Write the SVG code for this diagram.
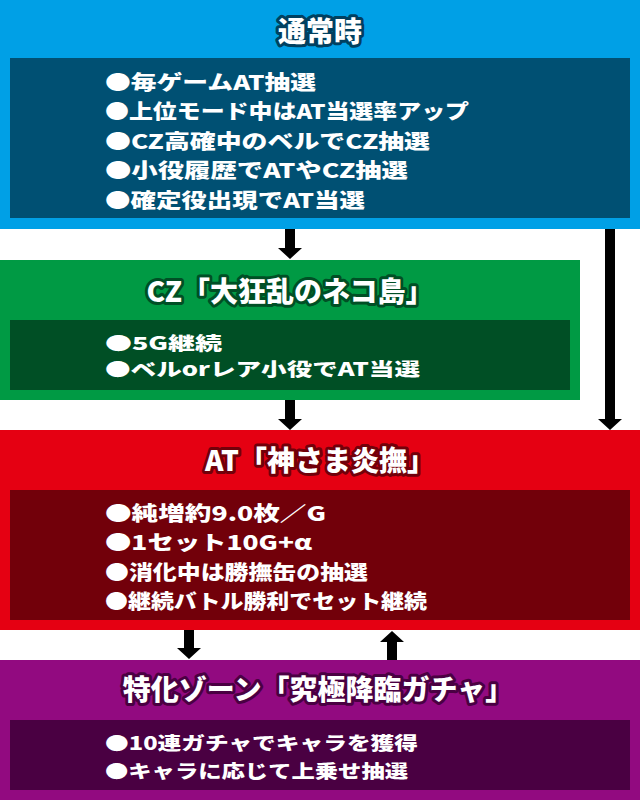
<svg xmlns="http://www.w3.org/2000/svg" width="640" height="800" viewBox="0 0 640 800">
<style>
.title{font-family:"Noto Sans CJK JP","Noto Sans",sans-serif;font-weight:900;font-size:28px;fill:#fff;stroke-width:6;stroke-linejoin:round;paint-order:stroke;text-anchor:middle}
.body{font-family:"Noto Sans CJK JP","Noto Sans",sans-serif;font-weight:900;font-size:20px;fill:#fff}
.small{font-size:18px}
.arrow{fill:#000}
</style>
<rect width="640" height="800" fill="#fff"/>
<g id="normal">
<rect x="0" y="0" width="640" height="229" fill="#00a0e6"/>
<rect x="10" y="58" width="620" height="160" fill="#005073"/>
<text class="title" x="320" y="42" stroke="#004060">通常時</text>
<text class="body" x="105" y="90" textLength="211" lengthAdjust="spacingAndGlyphs">●毎ゲームAT抽選</text>
<text class="body" x="105" y="119" textLength="364" lengthAdjust="spacingAndGlyphs">●上位モード中はAT当選率アップ</text>
<text class="body" x="105" y="149" textLength="325" lengthAdjust="spacingAndGlyphs">●CZ高確中のベルでCZ抽選</text>
<text class="body" x="105" y="178" textLength="303" lengthAdjust="spacingAndGlyphs">●小役履歴でATやCZ抽選</text>
<text class="body" x="105" y="208" textLength="260" lengthAdjust="spacingAndGlyphs">●確定役出現でAT当選</text>
</g>
<g id="cz">
<rect x="0" y="260" width="580" height="140" fill="#009a44"/>
<rect x="10" y="320" width="560" height="70" fill="#004f25"/>
<text class="title" x="290" y="302" stroke="#004f25">CZ「大狂乱のネコ島」</text>
<text class="body small" x="105" y="350" textLength="117" lengthAdjust="spacingAndGlyphs">●5G継続</text>
<text class="body small" x="105" y="376" textLength="315" lengthAdjust="spacingAndGlyphs">●ベルorレア小役でAT当選</text>
</g>
<g id="at">
<rect x="0" y="430" width="640" height="200" fill="#e50012"/>
<rect x="10" y="490" width="620" height="130" fill="#72000a"/>
<text class="title" x="320" y="471" stroke="#72000a">AT「神さま炎撫」</text>
<text class="body" x="105" y="521" textLength="221" lengthAdjust="spacingAndGlyphs">●純増約9.0枚／G</text>
<text class="body" x="105" y="550" textLength="207" lengthAdjust="spacingAndGlyphs">●1セット10G+α</text>
<text class="body" x="105" y="580" textLength="263" lengthAdjust="spacingAndGlyphs">●消化中は勝撫缶の抽選</text>
<text class="body" x="105" y="609" textLength="322" lengthAdjust="spacingAndGlyphs">●継続バトル勝利でセット継続</text>
</g>
<g id="gacha">
<rect x="0" y="660" width="640" height="140" fill="#920a80"/>
<rect x="10" y="720" width="620" height="70" fill="#4a0042"/>
<text class="title" x="318" y="700" stroke="#4a0042">特化ゾーン「究極降臨ガチャ」</text>
<text class="body small" x="105" y="750" textLength="313" lengthAdjust="spacingAndGlyphs">●10連ガチャでキャラを獲得</text>
<text class="body small" x="105" y="778" textLength="303" lengthAdjust="spacingAndGlyphs">●キャラに応じて上乗せ抽選</text>
</g>
<g id="connectors">
<polygon class="arrow" points="285,229 295,229 295,248 302,248 290,259 278,248 285,248"/>
<polygon class="arrow" points="285,400 295,400 295,419 302,419 290,430 278,419 285,419"/>
<polygon class="arrow" points="605,229 615,229 615,419 622,419 610,430 598,419 605,419"/>
<polygon class="arrow" points="184,630 194,630 194,648 201,648 189,659 177,648 184,648"/>
<polygon class="arrow" points="387,660 397,660 397,642 404,642 392,631 380,642 387,642"/>
</g>
</svg>
